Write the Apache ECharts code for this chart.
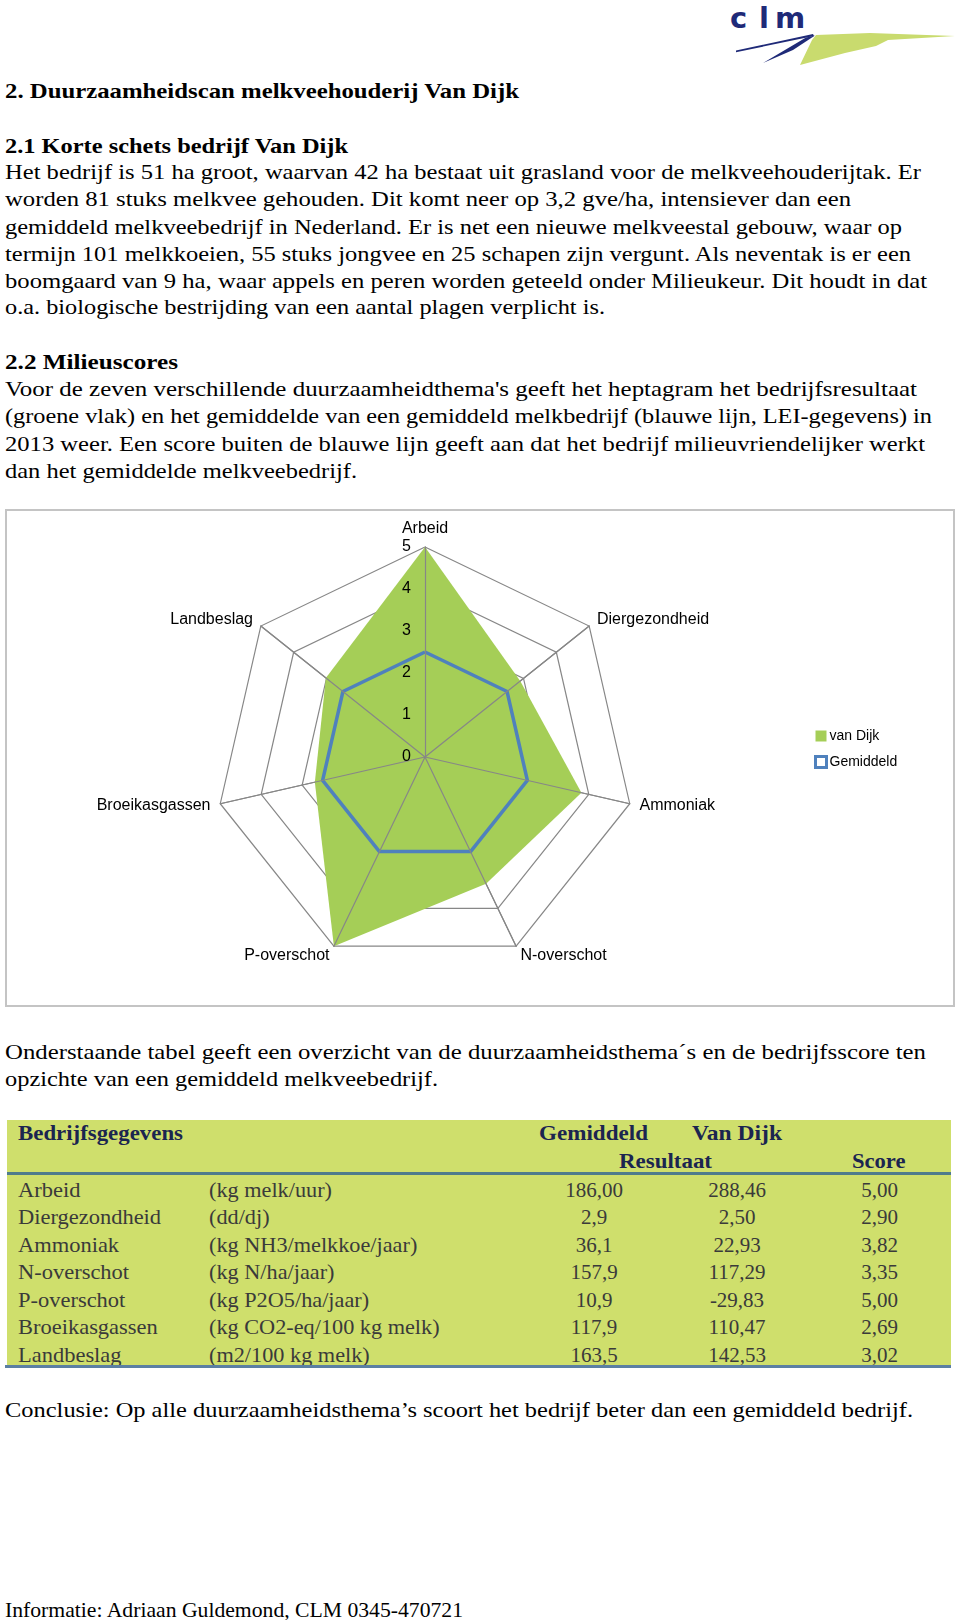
<!DOCTYPE html>
<html>
<head>
<meta charset="utf-8">
<script src="https://cdn.jsdelivr.net/npm/echarts@6/dist/echarts.min.js"></script>
<style>
  html, body { margin:0; padding:0; background:#fff; }
  #page { position:relative; width:960px; height:1620px; overflow:hidden; background:#fff; }
  .ln { position:absolute; left:5px; white-space:nowrap; font-family:'Liberation Serif', serif; font-size:22px; line-height:27px; color:#000; transform-origin:0 50%; }
  .b { font-weight:bold; }
  #chart { position:absolute; left:5px; top:509px; width:950px; height:498px; }
  #frame { position:absolute; left:5px; top:509px; width:950px; height:498px; box-sizing:border-box; border:2px solid #c4c4c4; pointer-events:none; }
  #tbl { position:absolute; left:7px; top:1120px; width:944px; height:247px; background:#cfdf6c; }
  .tc { position:absolute; white-space:nowrap; font-family:'Liberation Serif', serif; font-size:21px; line-height:26px; color:#3a3a3a; transform-origin:0 50%; }
  .th { font-weight:bold; color:#1b2550; }
</style>
</head>
<body>
<div id="page">
  <svg style="position:absolute;left:700px;top:0" width="260" height="80" viewBox="700 0 260 80">
    <polygon points="800,65 812,40 816,35 870,33 955,36 888,40 876,46 845,53" fill="#c9db6e"/>
    <polygon points="736,50.5 813,34 814,36 736,52.2" fill="#1f2a78"/>
    <polygon points="763,63 806,37.5 815,35.5 793,50" fill="#1f2a78"/>
    <g font-family="DejaVu Sans, sans-serif" font-weight="bold" font-size="29" fill="#1f2a78">
      <text x="730" y="28">c</text>
      <text x="759" y="28">l</text>
      <text x="775" y="28">m</text>
    </g>
  </svg>

  <div class="ln b" data-cy="90" data-r="519">2. Duurzaamheidscan melkveehouderij Van Dijk</div>
  <div class="ln b" data-cy="145" data-r="348">2.1 Korte schets bedrijf Van Dijk</div>
  <div class="ln" data-cy="171.5" data-r="921">Het bedrijf is 51 ha groot, waarvan 42 ha bestaat uit grasland voor de melkveehouderijtak. Er</div>
  <div class="ln" data-cy="198.4" data-r="851">worden 81 stuks melkvee gehouden. Dit komt neer op 3,2 gve/ha, intensiever dan een</div>
  <div class="ln" data-cy="226.3" data-r="902">gemiddeld melkveebedrijf in Nederland. Er is net een nieuwe melkveestal gebouw, waar op</div>
  <div class="ln" data-cy="253.2" data-r="911">termijn 101 melkkoeien, 55 stuks jongvee en 25 schapen zijn vergunt. Als neventak is er een</div>
  <div class="ln" data-cy="280" data-r="927">boomgaard van 9 ha, waar appels en peren worden geteeld onder Milieukeur. Dit houdt in dat</div>
  <div class="ln" data-cy="306.9" data-r="605">o.a. biologische bestrijding van een aantal plagen verplicht is.</div>
  <div class="ln b" data-cy="361.7" data-r="178">2.2 Milieuscores</div>
  <div class="ln" data-cy="388.6" data-r="917">Voor de zeven verschillende duurzaamheidthema's geeft het heptagram het bedrijfsresultaat</div>
  <div class="ln" data-cy="415.4" data-r="932">(groene vlak) en het gemiddelde van een gemiddeld melkbedrijf (blauwe lijn, LEI-gegevens) in</div>
  <div class="ln" data-cy="443.3" data-r="925">2013 weer. Een score buiten de blauwe lijn geeft aan dat het bedrijf milieuvriendelijker werkt</div>
  <div class="ln" data-cy="470.2" data-r="357">dan het gemiddelde melkveebedrijf.</div>

  <div id="chart"></div>
  <div id="frame"></div>

  <div class="ln" data-cy="1051" data-r="926">Onderstaande tabel geeft een overzicht van de duurzaamheidsthema´s en de bedrijfsscore ten</div>
  <div class="ln" data-cy="1078" data-r="438">opzichte van een gemiddeld melkveebedrijf.</div>

  <div id="tbl"></div>

  <div class="ln" data-cy="1409.5" data-r="913">Conclusie: Op alle duurzaamheidsthema’s scoort het bedrijf beter dan een gemiddeld bedrijf.</div>
  <div class="ln" data-cy="1609" data-r="463">Informatie: Adriaan Guldemond, CLM 0345-470721</div>
</div>

<script>
// ---- data ----
var categories = ['Arbeid', 'Diergezondheid', 'Ammoniak', 'N-overschot', 'P-overschot', 'Broeikasgassen', 'Landbeslag'];
var units = ['(kg melk/uur)', '(dd/dj)', '(kg NH3/melkkoe/jaar)', '(kg N/ha/jaar)', '(kg P2O5/ha/jaar)', '(kg CO2-eq/100 kg melk)', '(m2/100 kg melk)'];
var gemiddeldResultaat = ['186,00', '2,9', '36,1', '157,9', '10,9', '117,9', '163,5'];
var vanDijkResultaat = ['288,46', '2,50', '22,93', '117,29', '-29,83', '110,47', '142,53'];
var vanDijkScore = [5.00, 2.90, 3.82, 3.35, 5.00, 2.69, 3.02];
var gemiddeldScore = [2.5, 2.5, 2.5, 2.5, 2.5, 2.5, 2.5];
var scoreMax = 5;
var seriesNames = ['van Dijk', 'Gemiddeld'];
var tableHeader1 = ['Bedrijfsgegevens', 'Gemiddeld', 'Van Dijk'];
var tableHeader2 = ['Resultaat', 'Score'];

// ---- text line layout (stretch each line to the reference line width) ----
document.querySelectorAll('.ln').forEach(function (el) {
  var cy = parseFloat(el.dataset.cy);
  el.style.top = (cy - 13.5) + 'px';
  var target = parseFloat(el.dataset.r) - 5;
  var w = el.getBoundingClientRect().width;
  el.style.transform = 'scaleX(' + (target / w) + ')';
});

// ---- table ----
(function () {
  var t = document.getElementById('tbl');
  var left0 = 7, top0 = 1120;
  function cell(txt, cls, cy, opts) {
    var el = document.createElement('div');
    el.className = 'tc ' + (cls || '');
    el.textContent = txt;
    t.appendChild(el);
    el.style.top = (cy - top0 - 13) + 'px';
    var w = el.getBoundingClientRect().width;
    var s = opts.width ? opts.width / w : (opts.scale || 1);
    var W = w * s;
    var x = opts.center != null ? opts.center - W / 2 : opts.left;
    el.style.left = (x - left0) + 'px';
    el.style.transform = 'scaleX(' + s + ')';
  }
  var gemC = 594, vdC = 737, scoreC = 879.5;
  cell(tableHeader1[0], 'th', 1132.6, { left: 17.6, width: 165 });
  cell(tableHeader1[1], 'th', 1132.6, { center: 593.5, width: 109 });
  cell(tableHeader1[2], 'th', 1132.6, { center: 737, width: 90 });
  cell(tableHeader2[0], 'th', 1160.5, { center: 665.5, width: 93 });
  cell(tableHeader2[1], 'th', 1160.5, { center: 879, width: 53.5 });
  var line1 = document.createElement('div');
  line1.style.cssText = 'position:absolute;left:0;top:' + (1172 - top0) + 'px;width:944px;height:3px;background:#4f7c8c';
  t.appendChild(line1);
  for (var i = 0; i < categories.length; i++) {
    var cy = 1189.5 + i * 27.55;
    cell(categories[i], '', cy, { left: 17.6, scale: 1.07 });
    cell(units[i], '', cy, { left: 208.7, scale: 1.06 });
    cell(gemiddeldResultaat[i], '', cy, { center: gemC });
    cell(vanDijkResultaat[i], '', cy, { center: vdC });
    cell(vanDijkScore[i].toFixed(2).replace('.', ','), '', cy, { center: scoreC });
  }
  var line2 = document.createElement('div');
  line2.style.cssText = 'position:absolute;left:-2px;top:' + (1365 - top0) + 'px;width:946px;height:3px;background:#5b7fa3';
  t.appendChild(line2);
})();

// ---- radar chart ----
// ECharts places indicators counter-clockwise; the reference runs clockwise from the top.
var order = [0, 6, 5, 4, 3, 2, 1];
function reorder(arr) { return order.map(function (i) { return arr[i]; }); }

var indicatorsMain = reorder(categories).map(function (n) { return { name: n, min: 0, max: scoreMax }; });
var indicatorsTop = reorder(categories).map(function (n, k) {
  var o = { name: n, min: 0, max: scoreMax };
  if (k === 0) {
    o.axisLabel = { show: true, color: '#000', fontSize: 16, fontFamily: 'Liberation Sans', margin: 14 };
  }
  return o;
});

var chart = echarts.init(document.getElementById('chart'), null, { renderer: 'canvas' });
chart.setOption({
  animation: false,
  backgroundColor: '#fff',
  legend: {
    orient: 'vertical',
    left: 804,
    top: 215,
    itemWidth: 11,
    itemHeight: 11,
    itemGap: 12,
    selectedMode: false,
    textStyle: { fontSize: 14, fontFamily: 'Liberation Sans', color: '#000', padding: [0, 0, 0, -2] },
    data: [
      { name: seriesNames[0], icon: 'rect', itemStyle: { color: '#a5ce57', borderWidth: 0 } },
      { name: seriesNames[1], icon: 'rect', itemStyle: { color: '#ffffff', borderColor: '#4f81bd', borderWidth: 3 } }
    ]
  },
  radar: [
    {
      center: [420, 248],
      radius: 210,
      startAngle: 90,
      shape: 'polygon',
      splitNumber: 5,
      nameGap: 10,
      axisName: { color: '#000', fontSize: 16, fontFamily: 'Liberation Sans' },
      indicator: indicatorsMain,
      splitLine: { lineStyle: { color: '#878787', width: 1.2 } },
      splitArea: { show: false },
      axisLine: { lineStyle: { color: '#878787', width: 1.2 } },
      axisTick: { show: false },
      axisLabel: { show: false }
    },
    {
      center: [420, 248],
      radius: 210,
      startAngle: 90,
      shape: 'polygon',
      splitNumber: 5,
      z: 5,
      axisName: { show: false },
      indicator: indicatorsTop,
      splitLine: { show: false },
      splitArea: { show: false },
      axisLine: { lineStyle: { color: '#878787', width: 1.2 } },
      axisTick: { show: false },
      axisLabel: { show: false }
    }
  ],
  series: [
    {
      type: 'radar',
      radarIndex: 0,
      symbol: 'none',
      data: [
        {
          name: seriesNames[0],
          value: reorder(vanDijkScore),
          itemStyle: { color: '#a5ce57' },
          lineStyle: { width: 0, color: '#a5ce57' },
          areaStyle: { color: '#a5ce57', opacity: 1 }
        },
        {
          name: seriesNames[1],
          value: reorder(gemiddeldScore),
          itemStyle: { color: '#4f81bd' },
          lineStyle: { width: 3.5, color: '#4f81bd' }
        }
      ]
    }
  ]
});
</script>
</body>
</html>
